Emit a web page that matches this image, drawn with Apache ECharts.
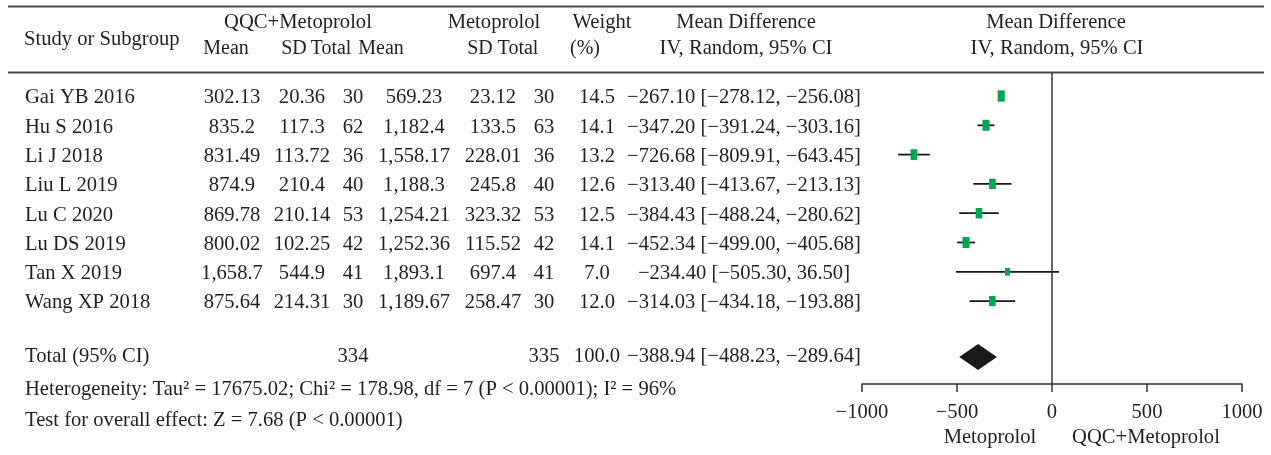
<!DOCTYPE html>
<html><head><meta charset="utf-8">
<script src="https://cdn.jsdelivr.net/npm/echarts@6/dist/echarts.min.js"></script>
<style>html,body{margin:0;padding:0;background:#fff}#c{width:1271px;height:455px}</style>
</head><body><div id="c"></div>
<script>
// ---------- data ----------
const studies = ['Gai YB 2016','Hu S 2016','Li J 2018','Liu L 2019','Lu C 2020','Lu DS 2019','Tan X 2019','Wang XP 2018'];
const expMean = ['302.13','835.2','831.49','874.9','869.78','800.02','1,658.7','875.64'];
const expSD   = ['20.36','117.3','113.72','210.4','210.14','102.25','544.9','214.31'];
const expN    = [30,62,36,40,53,42,41,30];
const ctlMean = ['569.23','1,182.4','1,558.17','1,188.3','1,254.21','1,252.36','1,893.1','1,189.67'];
const ctlSD   = ['23.12','133.5','228.01','245.8','323.32','115.52','697.4','258.47'];
const ctlN    = [30,63,36,40,53,42,41,30];
const weights = [14.5,14.1,13.2,12.6,12.5,14.1,7.0,12.0];
const md      = [-267.10,-347.20,-726.68,-313.40,-384.43,-452.34,-234.40,-314.03];
const ciLow   = [-278.12,-391.24,-809.91,-413.67,-488.24,-499.00,-505.30,-434.18];
const ciHigh  = [-256.08,-303.16,-643.45,-213.13,-280.62,-405.68,36.50,-193.88];
const totalLabel = 'Total (95% CI)';
const totalExpN = 334, totalCtlN = 335, totalWeight = 100.0;
const totalMd = -388.94, totalLow = -488.23, totalHigh = -289.64;
const heterogeneityText = 'Heterogeneity: Tau\u00B2 = 17675.02; Chi\u00B2 = 178.98, df = 7 (P < 0.00001); I\u00B2 = 96%';
const overallText = 'Test for overall effect: Z = 7.68 (P < 0.00001)';
const axisMin = -1000, axisMax = 1000, axisStep = 500;
const leftAxisName = 'Metoprolol', rightAxisName = 'QQC+Metoprolol';

// ---------- layout ----------
const FONT = '"Liberation Serif","DejaVu Serif",serif';
const FS = 20.6;
const FS_H = 20;
const TXT = '#231f20';
const GREEN = '#00a651';
const TOTAL_ROW = 8.84;
const COL = {name:25, m1:232, sd1:302, n1:353, m2:414, sd2:493, n2:544, w:597, ci:744};

function fmtNum(v, d){ return (v < 0 ? '\u2212' : '') + Math.abs(v).toFixed(d); }
function ciText(m, l, h){ return fmtNum(m,2) + ' [' + fmtNum(l,2) + ', ' + fmtNum(h,2) + ']'; }
function txt(x, y, text, align, fs){
  return {type:'text', x:x, y:y + 2, style:{text:text, fontFamily:FONT, fontSize:fs||FS, fill:TXT, align:align||'center', verticalAlign:'middle'}};
}

const chart = echarts.init(document.getElementById('c'), null, {renderer:'canvas', width:1271, height:455});

const rowData = studies.map((s,i)=>[0,i]);

const option = {
  animation:false,
  backgroundColor:'#fff',
  grid:{left:862, right:29, top:73, bottom:71},
  xAxis:{type:'value', position:'bottom', min:axisMin, max:axisMax, interval:axisStep,
    axisLine:{show:true, onZero:false, lineStyle:{color:'#333', width:1.5}},
    axisTick:{show:true, length:8, lineStyle:{color:'#333', width:1.5}},
    splitLine:{show:false},
    axisLabel:{margin:18, fontFamily:FONT, fontSize:FS, color:TXT, formatter:v=>fmtNum(v,0)}
  },
  yAxis:{type:'value', inverse:true, min:-0.785, max:9.83, show:false},
  series:[
    { // table text for study rows
      type:'custom', clip:false, silent:true, data:rowData,
      renderItem:function(params, api){
        const i = params.dataIndex;
        const y = api.coord([0, i])[1];
        return {type:'group', children:[
          txt(COL.name, y, studies[i], 'left'),
          txt(COL.m1, y, expMean[i]),
          txt(COL.sd1, y, expSD[i]),
          txt(COL.n1, y, String(expN[i])),
          txt(COL.m2, y, ctlMean[i]),
          txt(COL.sd2, y, ctlSD[i]),
          txt(COL.n2, y, String(ctlN[i])),
          txt(COL.w, y, weights[i].toFixed(1)),
          txt(COL.ci, y, ciText(md[i], ciLow[i], ciHigh[i]))
        ]};
      }
    },
    { // total row text
      type:'custom', clip:false, silent:true, data:[[0, TOTAL_ROW]],
      renderItem:function(params, api){
        const y = api.coord([0, TOTAL_ROW])[1];
        return {type:'group', children:[
          txt(COL.name, y, totalLabel, 'left'),
          txt(COL.n1, y, String(totalExpN)),
          txt(COL.n2, y, String(totalCtlN)),
          txt(COL.w, y, totalWeight.toFixed(1)),
          txt(COL.ci, y, ciText(totalMd, totalLow, totalHigh))
        ]};
      }
    },
    { // CI lines + squares
      type:'custom', clip:false, silent:true, data:rowData,
      renderItem:function(params, api){
        const i = params.dataIndex;
        const pl = api.coord([ciLow[i], i]);
        const ph = api.coord([ciHigh[i], i]);
        const pm = api.coord([md[i], i]);
        const sc = Math.sqrt(weights[i] / 14);
        const w = 7 * sc, h = 11 * sc;
        return {type:'group', children:[
          {type:'line', shape:{x1:pl[0], y1:pl[1], x2:ph[0], y2:ph[1]}, style:{stroke:'#1a1a1a', lineWidth:1.8}},
          {type:'rect', shape:{x:pm[0]-w/2, y:pm[1]-h/2, width:w, height:h}, style:{fill:GREEN}}
        ]};
      },
      markLine:{silent:true, symbol:'none', label:{show:false},
        lineStyle:{color:'#333', width:1.5, type:'solid'}, data:[{xAxis:0}]}
    },
    { // total diamond
      type:'custom', clip:false, silent:true, data:[[totalMd, TOTAL_ROW]],
      renderItem:function(params, api){
        const a = api.coord([totalLow, TOTAL_ROW]);
        const m = api.coord([totalMd, TOTAL_ROW]);
        const b = api.coord([totalHigh, TOTAL_ROW]);
        const cy = m[1] + 2;
        return {type:'polygon', shape:{points:[[a[0],cy],[m[0],cy-13],[b[0],cy],[m[0],cy+13]]}, style:{fill:'#1a1a1a'}};
      }
    }
  ],
  graphic:[
    {type:'line', shape:{x1:8, y1:6.5, x2:1264, y2:6.5}, style:{stroke:'#4a4a4a', lineWidth:2}},
    {type:'line', shape:{x1:8, y1:72.5, x2:1264, y2:72.5}, style:{stroke:'#4a4a4a', lineWidth:2}},
    txt(24, 38, 'Study or Subgroup', 'left'),
    txt(298, 21, 'QQC+Metoprolol'),
    txt(494, 21, 'Metoprolol'),
    txt(602, 21, 'Weight'),
    txt(746, 21, 'Mean Difference'),
    txt(1056, 21, 'Mean Difference'),
    txt(226, 47, 'Mean', 'center', FS_H),
    txt(294, 47, 'SD', 'center', FS_H),
    txt(331, 47, 'Total', 'center', FS_H),
    txt(381, 47, 'Mean', 'center', FS_H),
    txt(480, 47, 'SD', 'center', FS_H),
    txt(518, 47, 'Total', 'center', FS_H),
    txt(585, 47, '(%)', 'center', FS_H),
    txt(746, 47, 'IV, Random, 95% CI'),
    txt(1057, 47, 'IV, Random, 95% CI'),
    txt(25, 388, heterogeneityText, 'left'),
    txt(25, 419, overallText, 'left'),
    txt(990, 436, leftAxisName),
    txt(1146, 436, rightAxisName)
  ]
};
chart.setOption(option);
</script>
</body></html>
